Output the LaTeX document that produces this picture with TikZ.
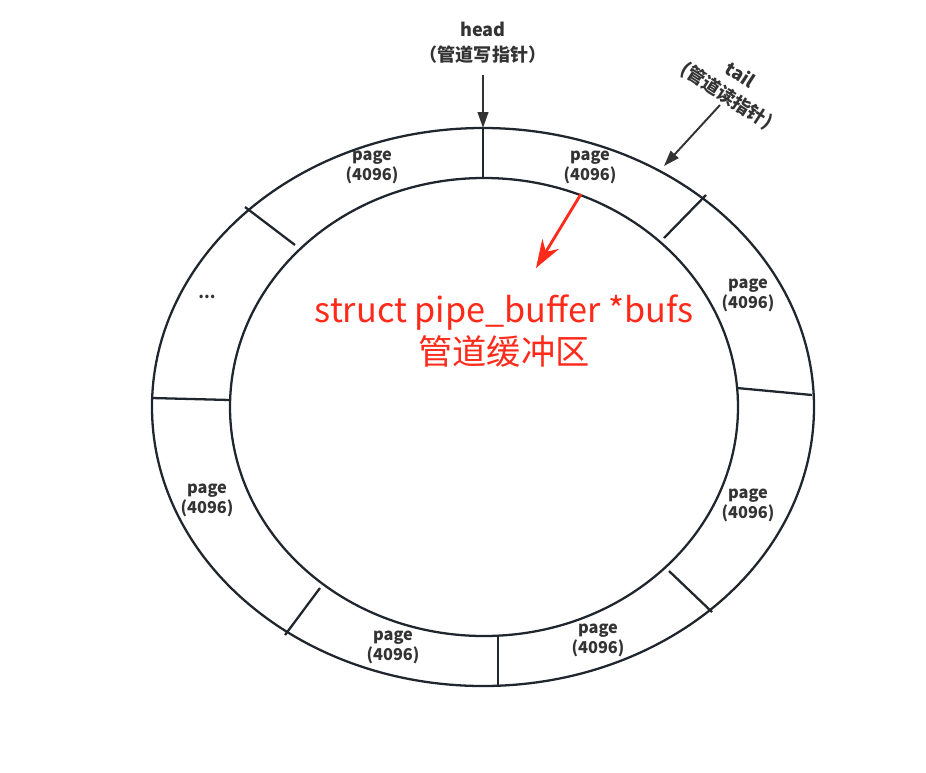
\documentclass[tikz,border=0pt]{standalone}
\usepackage{fontspec}
\setmainfont{Noto Sans CJK SC}
\usetikzlibrary{arrows.meta}
\definecolor{ringline}{HTML}{1F262D}
\definecolor{labtext}{HTML}{333333}
\definecolor{bufred}{HTML}{FF2A1A}
\tikzset{
    ring/.style={draw=ringline,line width=1.3pt},
    pagelab/.style={text=labtext,font=\bfseries\fontsize{9.3}{11.3}\selectfont,align=center,inner sep=0pt},
    ptrlab/.style={text=labtext,font=\bfseries\fontsize{10.3}{14}\selectfont,align=center,inner sep=0pt},
    ptrarrow/.style={draw=labtext,line width=1.1pt,-{Triangle[length=9pt,width=6pt]}},
}
\begin{document}
\begin{tikzpicture}[x=0.02cm,y=-0.02cm]
    \useasboundingbox (0,0) rectangle (926,772);
    % ring
    \draw[ring] (483,407) ellipse (331 and 279);
    \draw[ring] (484,407) ellipse (254 and 229);
    \draw[ring] (483,128) -- (483,178);
    \draw[ring] (706,195) -- (664,238);
    \draw[ring] (812,395) -- (737,388);
    \draw[ring] (712,612) -- (669,571);
    \draw[ring] (498,685) -- (498,636);
    \draw[ring] (285,635) -- (320,588);
    \draw[ring] (152,398) -- (230,400);
    \draw[ring] (245,207) -- (295,245);
    % pages
    \node[pagelab] at (372,167) (p1) {page\\(4096)};
    \node[pagelab] at (590,167) (p2) {page\\(4096)};
    \node[pagelab] at (748,295) (p3) {page\\(4096)};
    \node[pagelab] at (748,505) (p4) {page\\(4096)};
    \node[pagelab] at (598,640) (p5) {page\\(4096)};
    \node[pagelab] at (393,647) (p6) {page\\(4096)};
    \node[pagelab] at (207,500) (p7) {page\\(4096)};
    \node[pagelab] at (207,297) (p8) {...};
    % pointers
    \node[ptrlab] at (483,43) (head) {head\\（管道写指针）};
    \coordinate (headend) at (483,128);
    \draw[ptrarrow] (483,75) -- (headend);
    \node[ptrlab,rotate=-33] at (733,86) (tail) {tail\\(管道读指针)};
    \coordinate (tailstart) at (720,105);
    \coordinate (tailend) at (664,166);
    \draw[ptrarrow] (tailstart) -- (tailend);
    % buffer
    \node[text=bufred,font=\fontsize{19.5}{24}\selectfont,align=center,inner sep=0pt] at (504,331) (bufs) {struct pipe\_buffer *bufs\\管道缓冲区};
    \coordinate (redstart) at (581,194);
    \coordinate (redend) at (536,268);
    \draw[bufred,line width=1.6pt,-{Stealth[length=16pt,width=11pt]}] (redstart) -- (redend);
\end{tikzpicture}
\end{document}
